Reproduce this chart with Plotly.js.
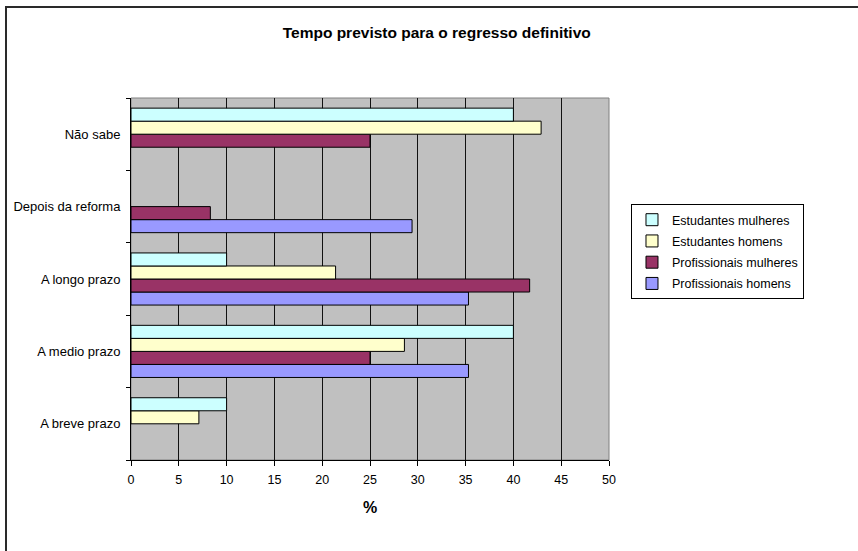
<!DOCTYPE html>
<html>
<head>
<meta charset="utf-8">
<script src="https://cdn.plot.ly/plotly-3.0.1.min.js"></script>
<style>
  html, body { margin: 0; padding: 0; background: #ffffff; }
  #wrap { position: relative; width: 858px; height: 551px; }
  #chart { position: absolute; left: 0; top: 0; width: 858px; height: 551px; }
  #frame { position: absolute; left: 5px; top: 6px; width: 860px; height: 560px;
           border-top: 2px solid #2a2a2a; border-left: 2px solid #2a2a2a; pointer-events: none; }
</style>
</head>
<body>
<div id="wrap">
  <div id="chart"></div>
  <div id="frame"></div>
</div>
<script>
// Categories (bottom to top)
const categories = ["A breve prazo", "A medio prazo", "A longo prazo", "Depois da reforma", "Não sabe"];

// Series values (%); null = no bar
const estudantesMulheres = [10, 40, 10, null, 40];
const estudantesHomens = [7.1, 28.6, 21.4, null, 42.9];
const profissionaisMulheres = [null, 25, 41.7, 8.3, 25];
const profissionaisHomens = [null, 35.3, 35.3, 29.4, null];

const xTicks = [0, 5, 10, 15, 20, 25, 30, 35, 40, 45, 50];

// drawn bottom-to-top within each group
const seriesNames = ["Profissionais homens", "Profissionais mulheres", "Estudantes homens", "Estudantes mulheres"];
const seriesValues = [profissionaisHomens, profissionaisMulheres, estudantesHomens, estudantesMulheres];
const seriesColors = ["#9999FF", "#993366", "#FFFFCC", "#CCFFFF"];
const legendRanks = [4, 3, 2, 1];

const traces = seriesNames.map((name, i) => ({
  type: "bar",
  orientation: "h",
  name: name,
  legendgroup: "g" + i,
  legendrank: legendRanks[i],
  x: seriesValues[i],
  y: categories,
  marker: { color: seriesColors[i], line: { color: "#000000", width: 1 } },
  hoverinfo: "x+name"
}));

const layout = {
  width: 858,
  height: 551,
  margin: { l: 131, r: 249, t: 98, b: 91 },
  paper_bgcolor: "#ffffff",
  plot_bgcolor: "#C0C0C0",
  font: { family: "Liberation Sans, Arial, sans-serif", size: 12, color: "#000000" },
  title: {
    text: "<b>Tempo previsto para o regresso definitivo</b>",
    font: { family: "Liberation Sans, Arial, sans-serif", size: 15.5, color: "#000000" },
    xref: "container", x: 0.509, xanchor: "center",
    yref: "container", y: 0.94, yanchor: "middle"
  },
  barmode: "group",
  bargap: 0.28,
  bargroupgap: 0,
  showlegend: true,
  legend: {
    x: 1.046, xanchor: "left",
    y: 0.707, yanchor: "top",
    traceorder: "grouped",
    tracegroupgap: 2,
    bgcolor: "#ffffff",
    bordercolor: "#000000",
    borderwidth: 1,
    font: { size: 12.5, color: "#000000" }
  },
  xaxis: {
    range: [0, 50],
    tickvals: xTicks,
    ticktext: xTicks.map(String),
    ticks: "outside",
    ticklen: 5,
    tickcolor: "#000000",
    showgrid: true,
    gridcolor: "#111111",
    gridwidth: 1,
    zeroline: false,
    showline: true,
    linecolor: "#000000",
    linewidth: 1,
    tickfont: { size: 12.5 },
    ticklabelstandoff: 3,
    title: { text: "<b>%</b>", font: { size: 16 }, standoff: 15 },
    fixedrange: true
  },
  yaxis: {
    type: "category",
    categoryorder: "array",
    categoryarray: categories,
    ticks: "outside",
    tickson: "boundaries",
    ticklen: 4,
    tickcolor: "#000000",
    showgrid: false,
    zeroline: false,
    showline: true,
    linecolor: "#000000",
    linewidth: 1,
    tickfont: { size: 13 },
    ticklabelstandoff: 7,
    fixedrange: true
  },
  shapes: [{
    type: "rect", xref: "paper", yref: "paper", x0: 0, x1: 1, y0: 0, y1: 1,
    line: { color: "#808080", width: 1 }, fillcolor: "rgba(0,0,0,0)", layer: "below"
  }]
};

Plotly.newPlot("chart", traces, layout, { displayModeBar: false, staticPlot: true });
</script>
</body>
</html>
